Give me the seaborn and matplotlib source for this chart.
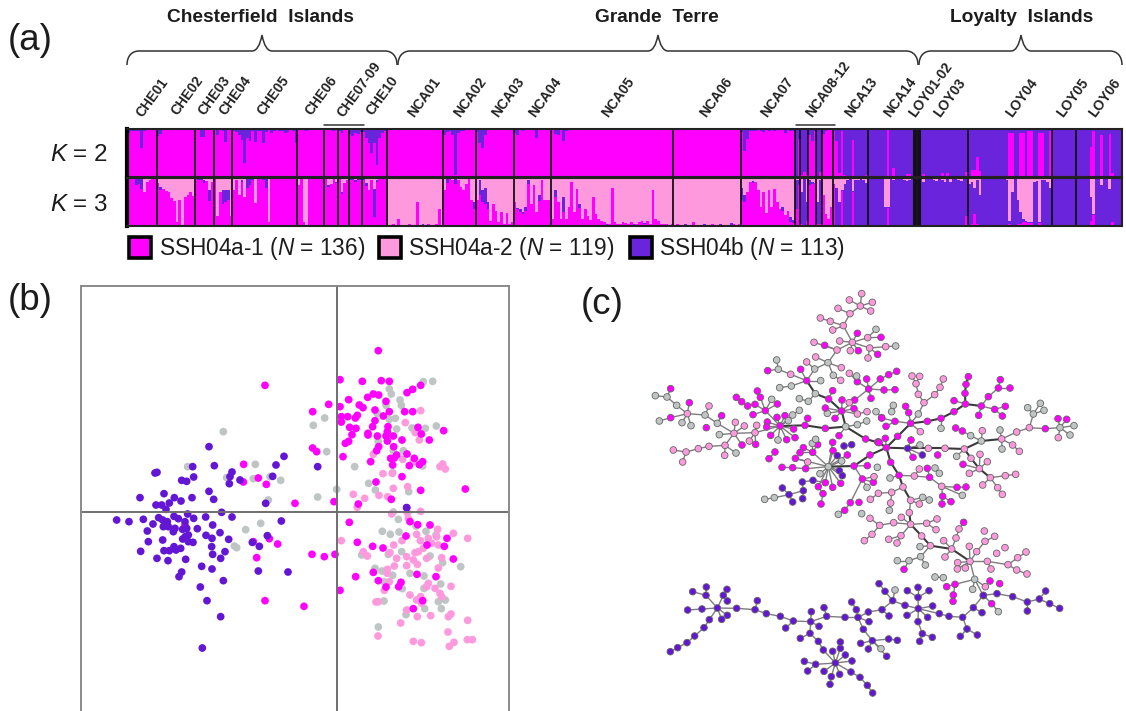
import numpy as np
import pandas as pd
import seaborn as sns
import matplotlib.pyplot as plt
from matplotlib.path import Path
from matplotlib.patches import PathPatch, Rectangle
from matplotlib.collections import LineCollection

#### colours
MAG = '#ff00ff'
PINK = '#ff99dd'
BLUE = '#6a24dc'
GREY = '#bfc4c4'
node_colours = {'m': MAG, 'p': PINK, 'b': '#6316d4', 'g': GREY}

#### (a) structure plot, one list per population, values in percent
pop_names = ['CHE01', 'CHE02', 'CHE03', 'CHE04', 'CHE05', 'CHE06', 'CHE07', 'CHE08', 'CHE09', 'CHE10',
             'NCA01', 'NCA02', 'NCA03', 'NCA04', 'NCA05', 'NCA06', 'NCA07', 'NCA08', 'NCA09', 'NCA10',
             'NCA11', 'NCA12', 'NCA13', 'NCA14', 'LOY01', 'LOY02', 'LOY03', 'LOY04', 'LOY05', 'LOY06']

k2_blue = [
    [8, 5, 5, 4, 5, 40, 5, 3, 2, 2, 2],
    [14, 10, 3, 1, 1, 1, 0, 0, 0, 0, 0, 0, 0, 0],
    [1, 2, 16, 16, 2, 1, 2],
    [3, 12, 3, 5, 28, 3, 3],
    [4, 6, 12, 22, 70, 18, 24, 5, 28, 4, 4, 30, 6, 3, 8, 5, 3, 4, 5, 8, 6, 3, 4, 30],
    [3, 2, 2, 4, 2, 2, 3, 2, 2, 3],
    [3, 2, 2, 5, 2],
    [5, 8, 2, 2],
    [10, 14, 8, 10, 6],
    [6, 18, 30, 50, 30, 75, 18, 8, 4],
    [1, 1, 1, 1, 1, 2, 1, 1, 1, 1, 1, 1, 1, 1, 1, 3, 1, 1, 1, 1, 1],
    [12, 6, 5, 12, 95, 8, 5, 4, 3, 3, 3, 2],
    [6, 30, 40, 12, 3, 3, 2, 2, 2, 3, 2, 2, 2, 2],
    [8, 12, 3, 4, 3, 2, 2, 2, 18, 3, 3, 2, 2, 2],
    [3, 10, 12, 3, 25, 5, 2, 2, 2, 1, 1, 1, 2, 2, 1, 1, 2, 1, 1, 1, 1, 1, 1, 1, 2, 1, 1, 1, 1, 2, 1, 1, 1, 1, 1, 1, 1, 2, 3, 1, 1, 1, 1, 1, 1],
    [2, 1, 1, 1, 2, 1, 1, 1, 1, 1, 2, 2, 1, 1, 1, 1, 1, 1, 1, 2, 1, 1, 1, 1, 1],
    [6, 45, 20, 4, 5, 4, 3, 4, 6, 3, 4, 3, 5, 3, 3, 2, 8, 3, 5, 4],
    [100, 20],
    [95, 90, 95],
    [12, 25, 5],
    [100, 90],
    [10, 5, 3, 3],
    [5, 25, 92, 5, 95, 100, 100, 22, 100, 100, 100, 100, 95],
    [100, 100, 100, 100, 100, 100, 100, 3, 100, 82, 100, 100, 100, 100, 93, 93, 98],
    [100],
    [100],
    [99, 94, 98, 99, 99, 99, 99, 99, 92, 97, 92, 98, 99, 99, 99, 99, 97, 90],
    [98, 85, 85, 58, 88, 97, 98, 98, 98, 98, 98, 99, 98, 99, 98, 8, 8, 98, 97, 8, 8, 97, 5, 5, 98, 97, 8, 8, 97, 98, 5],
    [100, 100, 100, 100, 100, 100, 100, 100, 100],
    [100, 100, 100, 100, 100, 38, 5, 100, 100, 12, 100, 100, 10, 92, 100, 100, 100],
]

k3_pink = [
    [2, 1, 1, 2, 3, 3, 30, 8, 4, 2, 2],
    [10, 18, 22, 28, 30, 42, 48, 92, 45, 98, 40, 35, 30, 38],
    [2, 2, 2, 4, 6, 25, 8],
    [3, 80, 30, 25, 25, 25, 80],
    [25, 5, 35, 5, 40, 3, 3, 2, 52, 2, 2, 2, 2, 92, 2, 2, 3, 2, 2, 2, 3, 3, 2, 2],
    [15, 3, 92, 98, 3, 3, 2, 2, 2, 2],
    [3, 15, 12, 3, 8],
    [3, 30, 10, 5],
    [2, 3, 4, 2, 3],
    [2, 10, 25, 4, 22, 5, 2, 2, 2],
    [98, 97, 96, 97, 85, 97, 98, 97, 96, 97, 98, 50, 98, 96, 97, 96, 97, 98, 96, 65, 98],
    [25, 3, 3, 5, 3, 4, 18, 25, 12, 3, 45, 50],
    [45, 5, 25, 20, 50, 90, 55, 68, 92, 70, 95, 72, 95, 92],
    [50, 62, 65, 70, 60, 5, 55, 15, 70, 35, 5, 45, 45, 45],
    [85, 25, 50, 85, 40, 85, 60, 8, 70, 22, 55, 85, 65, 80, 88, 40, 75, 85, 90, 92, 95, 95, 20, 92, 95, 96, 92, 94, 96, 92, 96, 96, 92, 90, 93, 90, 96, 25, 85, 90, 96, 96, 96, 97, 96],
    [97, 96, 98, 97, 96, 98, 98, 92, 97, 98, 97, 96, 98, 97, 96, 97, 98, 96, 97, 98, 98, 94, 96, 97, 96],
    [20, 35, 30, 8, 6, 8, 25, 60, 30, 72, 25, 60, 22, 50, 65, 60, 78, 68, 82, 88],
    [5, 5],
    [30, 3, 50],
    [5, 8, 10],
    [50, 5],
    [35, 75, 85, 60],
    [12, 20, 50, 25, 12, 5, 3, 28, 4, 5, 3, 4, 10],
    [1, 1, 1, 1, 1, 1, 60, 60, 1, 5, 1, 1, 1, 5, 6, 5, 3],
    [5],
    [5],
    [3, 8, 3, 2, 3, 5, 6, 3, 5, 8, 3, 8, 2, 2, 5, 7, 3, 2],
    [12, 8, 20, 5, 35, 3, 3, 3, 3, 3, 3, 3, 3, 3, 5, 90, 30, 3, 45, 70, 85, 90, 92, 92, 8, 6, 92, 5, 5, 8, 20],
    [2, 3, 2, 2, 2, 2, 2, 2, 2],
    [2, 2, 2, 2, 2, 40, 75, 2, 3, 15, 2, 3, 22, 3, 3, 3, 2],
]

k3_blue = [
    [0, 0, 2, 12, 10, 20, 0, 0, 0, 0, 0],
    [0, 6, 0, 0, 0, 0, 0, 0, 0, 0, 0, 0, 0, 0],
    [0, 2, 3, 6, 0, 22, 0],
    [0, 0, 0, 30, 25, 20, 0],
    [0, 0, 0, 3, 0, 18, 12, 3, 0, 0, 0, 3, 18, 0, 0, 0, 0, 0, 0, 0, 0, 0, 0, 0],
    [0, 0, 0, 0, 0, 0, 0, 0, 0, 0],
    [0, 3, 0, 0, 2],
    [0, 3, 0, 0],
    [3, 2, 4, 3, 2],
    [3, 6, 0, 0, 60, 3, 0, 0, 0],
    [0, 0, 0, 1, 0, 0, 0, 0, 0, 0, 0, 0, 0, 2, 0, 0, 0, 0, 0, 0, 0],
    [0, 8, 0, 0, 10, 0, 0, 0, 0, 0, 0, 15],
    [0, 30, 25, 35, 15, 0, 0, 0, 0, 0, 0, 0, 0, 0],
    [0, 3, 5, 5, 8, 8, 0, 0, 0, 12, 0, 0, 0, 0],
    [0, 15, 0, 0, 30, 0, 0, 0, 0, 0, 8, 0, 0, 0, 0, 0, 0, 0, 0, 0, 2, 0, 0, 0, 0, 0, 0, 0, 0, 0, 2, 0, 0, 0, 3, 0, 0, 0, 0, 0, 0, 0, 0, 0, 0],
    [0, 0, 0, 0, 2, 0, 0, 0, 0, 0, 0, 2, 0, 0, 0, 1, 0, 2, 0, 0, 0, 3, 0, 0, 0],
    [25, 15, 0, 0, 5, 0, 0, 0, 0, 0, 0, 0, 0, 0, 0, 8, 0, 0, 10, 5],
    [60, 10],
    [65, 95, 40],
    [10, 5, 0],
    [45, 90],
    [0, 0, 0, 0],
    [3, 80, 50, 3, 88, 95, 97, 2, 96, 95, 97, 96, 90],
    [99, 99, 99, 99, 99, 99, 40, 2, 99, 95, 99, 99, 99, 92, 91, 92, 97],
    [95],
    [95],
    [96, 89, 95, 97, 96, 94, 93, 96, 94, 91, 96, 91, 96, 97, 94, 92, 96, 78],
    [85, 87, 55, 90, 62, 96, 96, 96, 96, 96, 96, 96, 96, 96, 94, 5, 70, 96, 50, 25, 7, 2, 2, 2, 90, 93, 2, 94, 94, 91, 78],
    [98, 97, 98, 98, 98, 98, 98, 98, 98],
    [97, 97, 97, 97, 97, 50, 3, 97, 94, 84, 97, 96, 77, 89, 96, 96, 97],
]

site_labels = ['CHE01', 'CHE02', 'CHE03', 'CHE04', 'CHE05', 'CHE06', 'CHE07-09', 'CHE10',
               'NCA01', 'NCA02', 'NCA03', 'NCA04', 'NCA05', 'NCA06', 'NCA07', 'NCA08-12', 'NCA13', 'NCA14',
               'LOY01-02', 'LOY03', 'LOY04', 'LOY05', 'LOY06']
site_label_x = [137, 172, 199, 220, 258, 306, 338, 367, 409, 455, 493, 530, 603, 701, 762, 807, 846, 885,
                910, 935, 1007, 1058, 1090]
site_label_y = [120, 118, 118, 118, 118, 118, 120, 118, 120, 120, 120, 120, 120, 120, 120, 120, 120, 120,
                120, 120, 120, 120, 120]

legend_names = ['SSH04a-1', 'SSH04a-2', 'SSH04b']
legend_counts = [136, 119, 113]

pcoa_left = {
    'g': [(430, 455), (323, 560), (526, 553), (440, 593), (520, 596), (570, 590), (602, 601), (565, 660), (497, 749),
          (542, 730), (463, 798), (470, 803)],
    'm': [(555, 316), (491, 553), (535, 594), (490, 606), (559, 613), (645, 670), (568, 776), (593, 792), (530, 833),
          (520, 785), (555, 962), (315, 735)],
    'b': [(110, 720), (147, 725), (190, 718), (219, 732), (202, 753), (205, 785), (182, 814), (231, 835), (264, 842),
          (248, 780), (252, 812), (268, 812), (282, 800), (288, 810), (302, 805), (317, 838), (305, 876), (297, 890),
          (365, 859), (396, 867), (430, 902), (361, 921), (381, 962), (422, 1010), (367, 1104), (535, 873), (624, 876),
          (422, 835), (398, 823), (435, 815), (395, 800), (396, 775), (378, 766), (420, 758), (446, 778), (352, 746),
          (398, 735), (377, 711), (341, 715), (339, 787), (325, 785), (308, 777), (316, 770), (325, 765), (320, 745),
          (308, 748), (315, 725), (323, 702), (295, 716), (282, 709), (236, 713), (248, 720), (262, 725), (250, 740),
          (265, 740), (280, 755), (285, 745), (425, 697), (456, 711), (517, 787), (538, 799), (562, 767), (604, 723),
          (557, 670), (401, 658), (387, 634), (336, 653), (303, 663), (283, 653), (268, 669), (245, 675), (228, 675),
          (258, 688), (252, 641), (180, 653), (305, 601), (320, 604), (341, 591), (338, 560), (403, 557), (387, 500),
          (225, 579), (231, 577), (456, 576), (450, 590), (448, 611), (480, 600), (578, 589), (588, 555), (612, 529)],
}
pcoa_right = {
    'g': [(370, 155), (398, 154), (268, 177), (274, 192), (300, 210), (304, 226), (258, 226), (232, 250), (268, 268),
          (286, 265), (74, 264), (40, 286), (336, 294), (376, 295), (409, 288), (290, 297), (235, 334), (80, 365),
          (280, 362), (310, 362), (164, 410), (368, 408), (278, 428), (206, 460), (226, 480), (326, 485), (110, 478),
          (53, 501), (280, 546), (295, 568), (348, 588), (247, 604), (271, 613), (297, 606), (378, 604), (408, 615),
          (265, 673), (305, 665), (185, 675), (390, 678), (428, 698), (482, 710), (225, 715), (246, 723), (278, 736),
          (330, 730), (372, 738), (252, 755), (307, 776), (372, 775), (422, 762), (252, 813), (415, 815), (436, 810),
          (374, 836), (424, 836), (318, 854), (235, 891)],
    'p': [(362, 242), (316, 278), (346, 308), (358, 330), (220, 373), (308, 388), (340, 395), (428, 402), (420, 410),
          (436, 417), (249, 431), (277, 430), (323, 470), (280, 475), (160, 493), (237, 496), (194, 505), (263, 500),
          (172, 532), (275, 552), (322, 548), (362, 544), (325, 565), (413, 598), (460, 610), (503, 625), (124, 632),
          (350, 613), (306, 632), (281, 645), (361, 632), (385, 625), (410, 620), (415, 645), (190, 665), (202, 678),
          (270, 668), (290, 685), (320, 680), (345, 668), (340, 690), (355, 665), (380, 685), (425, 683), (415, 714),
          (320, 707), (283, 708), (262, 718), (262, 730), (268, 755), (352, 703), (253, 781), (330, 795), (362, 800),
          (385, 760), (380, 770), (405, 775), (420, 790), (425, 800), (453, 769), (228, 816), (235, 815), (350, 810),
          (365, 820), (320, 840), (352, 860), (392, 857), (445, 860), (453, 852), (302, 879), (503, 871), (444, 906),
          (234, 918), (340, 934), (364, 938), (448, 949), (462, 937), (502, 929), (517, 929), (395, 640), (370, 655)],
    'm': [(235, 62), (120, 149), (187, 154), (244, 152), (268, 154), (362, 166), (338, 178), (321, 188), (146, 209),
          (86, 223), (38, 245), (120, 230), (178, 225), (189, 233), (203, 202), (220, 192), (236, 195), (258, 214),
          (225, 240), (268, 245), (250, 258), (314, 245), (338, 245), (124, 260), (124, 276), (143, 260), (172, 256),
          (166, 264), (225, 272), (218, 290), (149, 292), (168, 295), (156, 314), (204, 310), (204, 315), (232, 318),
          (264, 290), (262, 305), (258, 318), (280, 318), (262, 333), (306, 330), (136, 340), (146, 334), (236, 350),
          (281, 350), (230, 362), (321, 372), (129, 380), (290, 375), (283, 384), (272, 385), (212, 395), (278, 405),
          (328, 407), (343, 385), (358, 404), (368, 395), (354, 292), (364, 312), (388, 330), (431, 302), (38, 354),
          (50, 365), (306, 440), (228, 456), (362, 481), (496, 477), (175, 522), (102, 515), (274, 508), (320, 533),
          (330, 575), (353, 584), (390, 585), (148, 577), (318, 618), (172, 637), (218, 649), (249, 654), (36, 673),
          (73, 680), (105, 673), (441, 625), (433, 649), (381, 645), (460, 687), (220, 727), (167, 740), (235, 752),
          (351, 733), (408, 740), (303, 757), (296, 770), (258, 771), (120, 781), (368, 812), (340, 836), (12, 829)],
    'b': [(53, 410), (320, 533)],
}

#### (c) network, node chains from three enlarged crops
net_top = [
    [(661, 78, 'p'), (665, 41, 'p')], [(661, 78, 'p'), (628, 60, 'p')], [(661, 78, 'p'), (697, 67, 'p')],
    [(661, 78, 'p'), (692, 93, 'p')], [(661, 78, 'p'), (630, 101, 'p'), (610, 137, 'p'), (637, 187, 'p')],
    [(610, 137, 'p'), (571, 124, 'p'), (541, 114, 'p')], [(610, 137, 'p'), (578, 150, 'p')], [(630, 101, 'p'), (594, 85, 'p')],
    [(637, 187, 'p'), (599, 183, 'p')], [(637, 187, 'p'), (652, 160, 'm')], [(637, 187, 'p'), (683, 173, 'p'), (708, 148, 'g')],
    [(683, 173, 'p'), (723, 172, 'm')], [(637, 187, 'p'), (689, 204, 'p'), (737, 200, 'p'), (767, 198, 'g')],
    [(689, 204, 'p'), (713, 223, 'm')], [(689, 204, 'p'), (684, 234, 'p')], [(637, 187, 'p'), (655, 212, 'm')],
    [(637, 187, 'p'), (631, 212, 'p')], [(637, 187, 'p'), (591, 210, 'p'), (554, 196, 'm')], [(591, 210, 'p'), (522, 187, 'p')],
    [(591, 210, 'p'), (564, 248, 'g'), (527, 231, 'p')], [(564, 248, 'g'), (604, 263, 'p')], [(564, 248, 'g'), (580, 286, 'g'), (602, 301, 'p')],
    [(564, 248, 'g'), (524, 267, 'g'), (500, 302, 'm')], [(524, 267, 'g'), (500, 246, 'p')], [(500, 302, 'm'), (482, 268, 'm')],
    [(500, 302, 'm'), (452, 283, 'p'), (415, 268, 'g'), (410, 240, 'g')], [(415, 268, 'g'), (383, 272, 'm')], [(500, 302, 'm'), (542, 302, 'g')],
    [(500, 302, 'm'), (454, 318, 'g'), (419, 323, 'g')], [(526, 341, 'g'), (505, 364, 'g'), (478, 356, 'g')],
    [(566, 357, 'm'), (578, 332, 'm')], [(605, 393, 'm'), (606, 360, 'm')], [(605, 393, 'm'), (642, 386, 'm')], [(605, 393, 'm'), (652, 402, 'p'), (681, 395, 'p')],
    [(605, 393, 'm'), (585, 415, 'm')], [(605, 393, 'm'), (562, 400, 'g')], [(605, 393, 'm'), (556, 384, 'm')],
    [(617, 440, 'g'), (652, 434, 'g'), (680, 423, 'g')], [(617, 440, 'g'), (597, 467, 'm')], [(708, 395, 'g'), (725, 413, 'm')],
    [(686, 327, 'm'), (652, 305, 'm'), (628, 280, 'p')], [(652, 305, 'm'), (650, 288, 'g')], [(686, 327, 'm'), (680, 297, 'm')],
    [(686, 327, 'm'), (721, 297, 'm'), (746, 284, 'm'), (770, 274, 'm')], [(686, 327, 'm'), (732, 330, 'm'), (765, 329, 'm')], [(686, 327, 'm'), (693, 355, 'm')],
    [(686, 327, 'm'), (644, 360, 'm'), (605, 393, 'm')],
    [(420, 438, 'm'), (376, 392, 'm'), (361, 352, 'm'), (352, 333, 'm')], [(376, 392, 'm'), (345, 373, 'm'), (323, 378, 'm'), (305, 365, 'm'), (289, 352, 'm')],
    [(376, 392, 'm'), (395, 358, 'g')], [(376, 392, 'm'), (412, 372, 'm')], [(376, 392, 'm'), (339, 404, 'm')], [(420, 438, 'm'), (411, 412, 'm')],
    [(420, 438, 'm'), (435, 407, 'm')], [(420, 438, 'm'), (458, 405, 'g'), (478, 391, 'g')], [(420, 438, 'm'), (382, 426, 'm')],
    [(420, 438, 'm'), (445, 422, 'g')], [(420, 438, 'm'), (380, 441, 'm')], [(420, 438, 'm'), (461, 447, 'm')], [(420, 438, 'm'), (465, 473, 'm')],
    [(420, 438, 'm'), (440, 479, 'm')], [(420, 438, 'm'), (414, 480, 'g')], [(420, 438, 'm'), (392, 466, 'm')], [(420, 438, 'm'), (345, 458, 'p'), (282, 460, 'p')],
    [(495, 436, 'm'), (503, 415, 'm')], [(345, 458, 'p'), (350, 436, 'p')], [(345, 458, 'p'), (328, 483, 'p')], [(345, 458, 'p'), (347, 493, 'm')],
    [(282, 460, 'p'), (286, 427, 'p')], [(282, 460, 'p'), (313, 438, 'p')], [(282, 460, 'p'), (238, 464, 'g')], [(282, 460, 'p'), (232, 430, 'g'), (245, 407, 'm')],
    [(232, 430, 'g'), (195, 405, 'g'), (207, 378, 'p')], [(195, 405, 'g'), (142, 401, 'p')], [(282, 460, 'p'), (255, 496, 'p')], [(282, 460, 'p'), (306, 495, 'm')],
    [(142, 401, 'p'), (110, 376, 'g'), (81, 351, 'g'), (46, 347, 'g')], [(81, 351, 'g'), (92, 326, 'm')], [(142, 401, 'p'), (148, 368, 'm')],
    [(142, 401, 'p'), (92, 413, 'm'), (58, 423, 'g')], [(142, 401, 'p'), (126, 428, 'g')], [(142, 401, 'p'), (153, 437, 'g')], [(199, 443, 'm')],
    [(255, 496, 'p'), (207, 499, 'p'), (175, 506, 'p'), (138, 516, 'p'), (100, 510, 'p')], [(138, 516, 'p'), (128, 546, 'p')], [(255, 496, 'p'), (254, 526, 'p')], [(255, 496, 'p'), (288, 519, 'g')],
    [(565, 560, 'g'), (518, 517, 'm'), (490, 503, 'm')], [(518, 517, 'm'), (533, 494, 'm')], [(518, 517, 'm'), (517, 490, 'g'), (527, 478, 'g')], [(518, 517, 'm'), (480, 518, 'm')],
    [(565, 560, 'g'), (466, 535, 'm'), (503, 546, 'p')], [(565, 560, 'g'), (497, 566, 'm'), (458, 563, 'm'), (426, 562, 'm')], [(565, 560, 'g'), (578, 487, 'm')],
    [(565, 560, 'g'), (579, 512, 'm')], [(565, 560, 'g'), (592, 527, 'b')], [(612, 498, 'b'), (635, 494, 'b')], [(565, 560, 'g'), (622, 525, 'm')], [(565, 560, 'g'), (605, 543, 'g')],
    [(565, 560, 'g'), (598, 572, 'b')], [(565, 560, 'g'), (607, 587, 'b')], [(565, 560, 'g'), (602, 610, 'm')], [(565, 560, 'g'), (578, 622, 'm')], [(565, 560, 'g'), (556, 608, 'm')],
    [(565, 560, 'g'), (535, 620, 'm'), (549, 641, 'm'), (543, 672, 'm')], [(565, 560, 'g'), (540, 581, 'g')],
    [(642, 558, 'm'), (682, 557, 'm')], [(642, 558, 'm'), (667, 597, 'm'), (700, 607, 'm')], [(667, 597, 'm'), (702, 590, 'p')], [(667, 597, 'm'), (681, 622, 'g')],
    [(667, 597, 'm'), (631, 668, 'm')], [(657, 667, 'm')], [(631, 668, 'm'), (614, 691, 'm'), (595, 703, 'g')], [(712, 562, 'g')], [(405, 516, 'm'), (387, 536, 'm')],
    [(556, 608, 'm'), (519, 601, 'b'), (487, 606, 'b'), (490, 632, 'b'), (488, 656, 'b')], [(490, 632, 'b'), (447, 644, 'b'), (427, 624, 'b')], [(447, 644, 'b'), (458, 666, 'b')],
    [(447, 644, 'b'), (403, 653, 'g'), (374, 658, 'g')],
]
net_top_dark = [
    [(500, 302, 'm'), (526, 341, 'g'), (566, 357, 'm'), (605, 393, 'm'), (617, 440, 'g')],
    [(617, 440, 'g'), (556, 445, 'm'), (495, 436, 'm'), (420, 438, 'm')],
    [(617, 440, 'g'), (677, 477, 'm')], [(565, 560, 'g'), (642, 558, 'm')],
]
net_right = [
    [(139, 323, 'm'), (116, 306, 'm')], [(139, 323, 'm'), (136, 295, 'm')], [(203, 325, 'b'), (213, 300, 'm')], [(203, 325, 'b'), (240, 315, 'g')],
    [(203, 325, 'b'), (247, 345, 'b')], [(203, 325, 'b'), (219, 352, 'm')], [(293, 345, 'm')], [(373, 327, 'p'), (350, 349, 'g')],
    [(424, 303, 'g'), (392, 287, 'g'), (367, 273, 'm'), (347, 264, 'm')], [(424, 303, 'g'), (427, 272, 'p')], [(485, 297, 'p'), (480, 270, 'g')], [(485, 297, 'p'), (486, 327, 'g')],
    [(485, 297, 'p'), (518, 315, 'p'), (538, 334, 'p')], [(485, 297, 'p'), (530, 276, 'p'), (568, 263, 'p')], [(568, 263, 'p'), (580, 222, 'g'), (563, 203, 'g')],
    [(580, 222, 'g'), (601, 190, 'g')], [(580, 222, 'g'), (612, 211, 'g')], [(568, 263, 'p'), (616, 266, 'm'), (660, 263, 'g')],
    [(660, 263, 'g'), (654, 236, 'm')], [(660, 263, 'g'), (680, 238, 'm')], [(660, 263, 'g'), (702, 257, 'g')], [(660, 263, 'g'), (690, 285, 'g')], [(660, 263, 'g'), (655, 293, 'p')],
    [(418, 386, 'p'), (420, 343, 'p')], [(418, 386, 'p'), (442, 365, 'p')], [(418, 386, 'p'), (369, 373, 'm')], [(418, 386, 'p'), (388, 400, 'p')],
    [(451, 413, 'p'), (496, 407, 'p'), (527, 403, 'p')], [(451, 413, 'p'), (428, 435, 'p')], [(451, 413, 'p'), (473, 443, 'p'), (487, 463, 'p')],
    [(212, 250, 'm'), (165, 244, 'm'), (125, 234, 'm')], [(165, 244, 'm'), (138, 259, 'm')], [(212, 250, 'm'), (206, 218, 'm'), (197, 199, 'm')],
    [(212, 250, 'm'), (235, 222, 'g'), (252, 188, 'p'), (235, 163, 'p'), (228, 131, 'p'), (216, 108, 'p')], [(228, 131, 'p'), (239, 109, 'p')],
    [(252, 188, 'p'), (284, 164, 'p'), (300, 142, 'p'), (310, 117, 'p')], [(160, 196, 'g'), (155, 215, 'g')], [(212, 250, 'm'), (241, 275, 'p')], [(303, 235, 'm'), (303, 265, 'g')],
    [(376, 192, 'm'), (342, 182, 'm')], [(424, 198, 'm'), (416, 226, 'm')], [(424, 198, 'm'), (445, 170, 'm'), (475, 144, 'm'), (481, 119, 'm')], [(475, 144, 'm'), (510, 144, 'm')],
    [(424, 198, 'm'), (464, 208, 'm'), (496, 199, 'm')], [(464, 208, 'm'), (487, 228, 'm')],
    [(177, 406, 'm'), (150, 414, 'g')], [(177, 406, 'm'), (223, 408, 'p'), (269, 412, 'm')], [(223, 408, 'p'), (238, 387, 'p')], [(269, 412, 'm'), (262, 385, 'm')],
    [(269, 412, 'm'), (305, 439, 'p'), (351, 442, 'm'), (378, 441, 'm')], [(305, 439, 'p'), (308, 469, 'm'), (306, 492, 'm')], [(308, 469, 'm'), (333, 485, 'm')],
    [(305, 439, 'p'), (367, 466, 'g')], [(285, 384, 'g'), (298, 400, 'g')],
    [(189, 441, 'p'), (155, 457, 'p'), (115, 460, 'p'), (91, 478, 'p')], [(155, 457, 'p'), (152, 489, 'p'), (148, 511, 'g')], [(212, 481, 'p'), (238, 492, 'p')],
    [(212, 481, 'p'), (248, 472, 'g'), (268, 480, 'g')], [(212, 481, 'p'), (208, 518, 'p')],
    [(212, 553, 'p'), (184, 532, 'p')], [(212, 553, 'p'), (161, 548, 'p'), (119, 556, 'p'), (90, 535, 'p')], [(65, 521, 'g')], [(119, 556, 'p'), (96, 583, 'p'), (73, 602, 'p')],
    [(212, 553, 'p'), (183, 587, 'p'), (171, 609, 'p')], [(183, 587, 'p'), (146, 598, 'p')], [(212, 553, 'p'), (260, 550, 'p'), (291, 537, 'p')], [(260, 550, 'p'), (288, 569, 'p')],
    [(335, 627, 'p'), (311, 602, 'p')], [(335, 627, 'p'), (348, 594, 'p'), (357, 567, 'p'), (371, 547, 'm')], [(335, 627, 'p'), (315, 651, 'p')],
    [(271, 617, 'p'), (240, 620, 'g')], [(271, 617, 'p'), (242, 650, 'g'), (207, 662, 'g'), (172, 662, 'g')], [(242, 650, 'g'), (256, 675, 'g')], [(207, 662, 'g'), (192, 688, 'm')],
    [(390, 664, 'p'), (388, 619, 'p')], [(390, 664, 'p'), (410, 635, 'p'), (435, 604, 'p'), (464, 589, 'p')], [(433, 573, 'p')], [(390, 664, 'p'), (353, 668, 'p')], [(390, 664, 'p'), (352, 687, 'p')],
    [(390, 664, 'p'), (376, 684, 'p')], [(390, 664, 'p'), (442, 664, 'p'), (453, 687, 'p')], [(442, 664, 'p'), (504, 674, 'p'), (533, 653, 'p'), (558, 636, 'p')],
    [(504, 674, 'p'), (530, 690, 'p'), (561, 702, 'p')], [(470, 640, 'p')], [(495, 623, 'p')],
    [(390, 664, 'p'), (404, 718, 'g')], [(404, 718, 'g'), (398, 748, 'g')], [(404, 718, 'g'), (345, 733, 'm'), (320, 740, 'm')], [(345, 733, 'm'), (340, 765, 'm'), (339, 784, 'm')],
    [(404, 718, 'g'), (436, 740, 'p')], [(450, 723, 'm')], [(479, 731, 'm')], [(310, 713, 'g'), (285, 711, 'g')], [(404, 718, 'g'), (430, 767, 'b')],
    [(113, 306, 'm')], [(28, 188, 'p')],
]
net_right_dark = [
    [(77, 297, 'm'), (117, 308, 'm'), (139, 323, 'm'), (203, 325, 'b'), (265, 325, 'p'), (315, 325, 'p'), (373, 327, 'p'), (424, 303, 'g'), (485, 297, 'p')],
    [(139, 323, 'm'), (173, 289, 'm'), (212, 250, 'm')], [(139, 323, 'm'), (90, 345, 'm'), (42, 378, 'm')],
    [(139, 323, 'm'), (152, 367, 'm'), (177, 406, 'm'), (189, 441, 'p'), (212, 481, 'p')], [(208, 518, 'p'), (212, 553, 'p'), (245, 588, 'p'), (271, 617, 'p'), (335, 627, 'p'), (390, 664, 'p')],
    [(212, 250, 'm'), (262, 244, 'm'), (303, 235, 'm'), (342, 215, 'm'), (376, 192, 'm'), (375, 160, 'm'), (378, 133, 'm'), (385, 110, 'm')], [(376, 192, 'm'), (424, 198, 'm')],
    [(373, 327, 'p'), (393, 355, 'p'), (418, 386, 'p'), (451, 413, 'p')],
]
net_low = [
    [(1000, 106, 'b'), (1041, 101, 'b'), (1088, 110, 'b'), (1132, 126, 'b'), (1132, 153, 'b')], [(1132, 126, 'b'), (1168, 117, 'b'), (1187, 93, 'b')],
    [(1168, 117, 'b'), (1199, 131, 'b'), (1229, 145, 'b')], [(1000, 106, 'b'), (1025, 131, 'm'), (1045, 155, 'g')], [(1000, 106, 'b'), (970, 143, 'b'), (938, 172, 'b')],
    [(970, 143, 'b'), (996, 158, 'b')], [(938, 172, 'b'), (897, 169, 'b'), (868, 161, 'b'), (805, 146, 'b')], [(938, 172, 'b'), (951, 207, 'b'), (931, 229, 'b')], [(951, 207, 'b'), (982, 225, 'b')],
    [(805, 146, 'b'), (804, 112, 'b'), (804, 82, 'b')], [(804, 112, 'b'), (772, 92, 'b')], [(804, 112, 'b'), (837, 92, 'b')], [(805, 146, 'b'), (848, 138, 'b')], [(805, 146, 'b'), (833, 172, 'b')],
    [(805, 146, 'b'), (804, 185, 'b'), (817, 221, 'b'), (809, 244, 'b')], [(817, 221, 'b'), (847, 232, 'b')], [(805, 146, 'b'), (771, 166, 'b')], [(805, 146, 'b'), (765, 136, 'b'), (728, 122, 'b')],
    [(728, 122, 'b'), (705, 94, 'b'), (687, 71, 'b')], [(728, 122, 'b'), (735, 90, 'g')], [(728, 122, 'b'), (696, 149, 'b'), (717, 168, 'b')], [(696, 149, 'b'), (655, 156, 'b'), (624, 172, 'b')],
    [(624, 172, 'b'), (619, 149, 'b'), (605, 126, 'b')], [(624, 172, 'b'), (657, 185, 'b')], [(624, 172, 'b'), (585, 172, 'b'), (530, 169, 'b'), (482, 185, 'b')], [(624, 172, 'b'), (640, 208, 'b'), (667, 242, 'b')],
    [(667, 242, 'b'), (632, 250, 'b')], [(667, 242, 'b'), (655, 267, 'b')], [(667, 242, 'b'), (716, 237, 'b'), (742, 241, 'b')], [(667, 242, 'b'), (693, 266, 'g')], [(667, 242, 'b'), (710, 289, 'b')],
    [(530, 169, 'b'), (522, 143, 'b')], [(482, 185, 'b'), (484, 155, 'b')], [(482, 185, 'b'), (507, 199, 'b')], [(482, 185, 'b'), (430, 183, 'b'), (391, 169, 'b'), (349, 161, 'b'), (315, 149, 'b')],
    [(430, 183, 'b'), (407, 204, 'b')], [(482, 185, 'b'), (480, 220, 'b'), (451, 235, 'b')], [(480, 220, 'b'), (505, 244, 'b'), (520, 270, 'b'), (556, 309, 'b')],
    [(315, 149, 'b'), (322, 122, 'b')], [(315, 149, 'b'), (260, 145, 'b'), (202, 144, 'b')], [(202, 144, 'b'), (168, 106, 'b'), (169, 81, 'b')], [(168, 106, 'b'), (128, 95, 'b')],
    [(202, 144, 'b'), (220, 106, 'b'), (231, 88, 'b')], [(220, 106, 'b'), (232, 123, 'b')], [(202, 144, 'b'), (156, 147, 'b'), (113, 150, 'b')], [(202, 144, 'b'), (215, 178, 'b')], [(202, 144, 'b'), (232, 166, 'b')],
    [(202, 144, 'b'), (178, 179, 'b'), (162, 203, 'b'), (134, 228, 'b'), (111, 248, 'b'), (83, 263, 'b'), (61, 275, 'b')],
    [(556, 309, 'b'), (571, 265, 'b'), (571, 246, 'b')], [(556, 309, 'b'), (548, 274, 'b')], [(556, 309, 'b'), (586, 285, 'b')], [(556, 309, 'b'), (606, 303, 'b')],
    [(556, 309, 'b'), (603, 336, 'b'), (630, 352, 'b'), (652, 376, 'b'), (668, 399, 'b')], [(556, 309, 'b'), (569, 343, 'b')], [(556, 309, 'b'), (544, 350, 'b'), (540, 373, 'b')],
    [(556, 309, 'b'), (522, 334, 'b')], [(556, 309, 'b'), (497, 313, 'b'), (463, 304, 'b')], [(497, 313, 'b'), (473, 333, 'b')],
]


def px_axes(x0, y0, x1, y1):
    # axes placed by image pixels
    return fig.add_axes([x0 / 1126, 1 - y1 / 711, (x1 - x0) / 1126, (y1 - y0) / 711])


def draw_row(ax, bottom_vals, middle_vals, top_vals, middle_col):
    xs = np.arange(len(bottom_vals))
    ax.bar(xs, bottom_vals, width=1.03, color=MAG, linewidth=0)
    ax.bar(xs, middle_vals, width=1.03, bottom=bottom_vals, color=middle_col, linewidth=0)
    if top_vals is not None:
        ax.bar(xs, top_vals, width=1.03, bottom=bottom_vals + middle_vals, color=PINK, linewidth=0)
    ax.set_xlim(-0.5, len(xs) - 0.5)
    ax.set_ylim(0, 100)
    ax.set_xticks([])
    ax.set_yticks([])
    for b in pop_edges:
        ax.axvline(b - 0.5, color='#111111', lw=1.3)
    for b in thick_edges:
        ax.axvline(b - 0.5, color='#111111', lw=2.2)
    for s in ax.spines.values():
        s.set_color('#222222')
        s.set_linewidth(1.5)
    ax.spines['left'].set_linewidth(3)
    ax.spines['left'].set_color('black')


sns.set_theme(style='white')
plt.rcParams['font.family'] = 'Liberation Sans'
plt.rcParams['mathtext.fontset'] = 'custom'
plt.rcParams['mathtext.rm'] = 'Liberation Sans'
plt.rcParams['mathtext.it'] = 'Liberation Sans:italic'
plt.rcParams['text.color'] = '#1c1c1c'

fig = plt.figure(figsize=(11.26, 7.11), dpi=100)

#### structure rows
sizes = [len(v) for v in k2_blue]
pop_edges = np.cumsum(sizes)[:-1]
thick_edges = [np.cumsum(sizes)[pop_names.index('LOY01')] - 1, np.cumsum(sizes)[pop_names.index('LOY02')]]
k2b = np.array(sum(k2_blue, []), dtype=float)
k3p = np.array(sum(k3_pink, []), dtype=float)
k3b = np.array(sum(k3_blue, []), dtype=float)
k3m = np.clip(100 - k3p - k3b, 0, 100)

ax_k2 = px_axes(127, 129, 1122, 177)
draw_row(ax_k2, 100 - k2b, k2b, None, BLUE)
ax_k3 = px_axes(127, 178, 1122, 226)
draw_row(ax_k3, k3m, k3b, k3p, BLUE)

#### ordination
rows = []
for grp in ['g', 'p', 'm', 'b']:
    for zx, zy in pcoa_left.get(grp, []):
        rows.append((80 + zx / 3, 280 + zy / 3, grp))
    for zx, zy in pcoa_right.get(grp, []):
        rows.append((300 + zx / 3, 330 + zy / 3, grp))
pcoa = pd.DataFrame(rows, columns=['x', 'y', 'group'])

ax_b = px_axes(81, 286, 509, 711)
sns.scatterplot(data=pcoa, x='x', y='y', hue='group', hue_order=['g', 'p', 'm', 'b'], palette=node_colours,
                s=31, linewidth=0, legend=False, ax=ax_b)
ax_b.set_xlim(81, 509)
ax_b.set_ylim(711, 286)
ax_b.axvline(337.5, color='#6f6f6f', lw=1.4)
ax_b.axhline(512, color='#6f6f6f', lw=1.4)
ax_b.set_xticks([])
ax_b.set_yticks([])
ax_b.set_xlabel('')
ax_b.set_ylabel('')
ax_b.spines['bottom'].set_visible(False)
for side in ['left', 'right', 'top']:
    ax_b.spines[side].set_color('#8a8a8a')
    ax_b.spines[side].set_linewidth(1.4)

#### network
ax_c = px_axes(640, 280, 1100, 711)
blocks = [(net_top, 640, 280, False), (net_top_dark, 640, 280, True),
          (net_right, 840, 340, False), (net_right_dark, 840, 340, True),
          (net_low, 650, 560, False)]
light_segs, dark_segs, node_rows = [], [], []
for paths, ox, oy, dark in blocks:
    for chain in paths:
        pts = [(ox + n[0] / 3, oy + n[1] / 3) for n in chain]
        for n, p in zip(chain, pts):
            node_rows.append((p[0], p[1], n[2]))
        for a, b in zip(pts[:-1], pts[1:]):
            (dark_segs if dark else light_segs).append([a, b])
nodes = pd.DataFrame(node_rows, columns=['x', 'y', 'group']).drop_duplicates()
ax_c.add_collection(LineCollection(light_segs, colors='#7d7d7d', linewidths=1.0, zorder=1))
ax_c.add_collection(LineCollection(dark_segs, colors='#3a3a3a', linewidths=1.5, zorder=1))
sns.scatterplot(data=nodes, x='x', y='y', hue='group', palette=node_colours, s=23, edgecolor='#666666', linewidth=0.6,
                legend=False, zorder=2, ax=ax_c)
ax_c.set_xlim(640, 1100)
ax_c.set_ylim(711, 280)
ax_c.axis('off')

#### labels and annotation layer
ov = px_axes(0, 0, 1126, 711)
ov.set_xlim(0, 1126)
ov.set_ylim(711, 0)
ov.axis('off')
ov.patch.set_alpha(0)

ov.text(8, 41, '(a)', fontsize=26.5, va='center')
ov.text(8, 300, '(b)', fontsize=26.5, va='center')
ov.text(581, 305, '(c)', fontsize=26.5, va='center')
ov.text(50, 155, r'$\mathit{K}$ = 2', fontsize=17.5, va='center')
ov.text(50, 205, r'$\mathit{K}$ = 3', fontsize=17.5, va='center')

ov.text(167, 18, 'Chesterfield  Islands', fontsize=13.8, fontweight='bold', va='center')
ov.text(595, 18, 'Grande  Terre', fontsize=13.8, fontweight='bold', va='center')
ov.text(950, 18, 'Loyalty  Islands', fontsize=13.8, fontweight='bold', va='center')


def brace(x0, xm, x1):
    top = 51
    v = [(x0, 65), (x0, 56), (x0 + 5, top), (x0 + 12, top), (xm - 10, top), (xm - 3, top), (xm, 35),
         (xm + 3, top), (xm + 10, top), (x1 - 12, top), (x1 - 5, top), (x1, 56), (x1, 65)]
    c = [Path.MOVETO, Path.CURVE4, Path.CURVE4, Path.CURVE4, Path.LINETO, Path.CURVE3, Path.CURVE3,
         Path.CURVE3, Path.CURVE3, Path.LINETO, Path.CURVE4, Path.CURVE4, Path.CURVE4]
    ov.add_patch(PathPatch(Path(v, c), fill=False, edgecolor='#333333', lw=1.1))


brace(127, 262, 397)
brace(398, 658, 918)
brace(919, 1021, 1122)

for name, lx, ly in zip(site_labels, site_label_x, site_label_y):
    ov.text(lx + 8, ly, name, fontsize=10, fontweight='bold', rotation=54, rotation_mode='anchor',
            ha='left', va='bottom', color='#222222')
ov.plot([324, 364], [124.5, 124.5], color='#333333', lw=1.1)
ov.plot([796, 835], [124.5, 124.5], color='#333333', lw=1.1)

for name, n, col, sx, tx in zip(legend_names, legend_counts, [MAG, PINK, BLUE], [129, 379, 630], [159, 408, 659]):
    ov.add_patch(Rectangle((sx, 237), 22, 21, facecolor=col, edgecolor='black', lw=2.6))
    ov.text(tx, 248, name + r' ($\mathit{N}$ = ' + str(n) + ')', fontsize=16.3, va='center')

fig.savefig('out.png', dpi=100)
